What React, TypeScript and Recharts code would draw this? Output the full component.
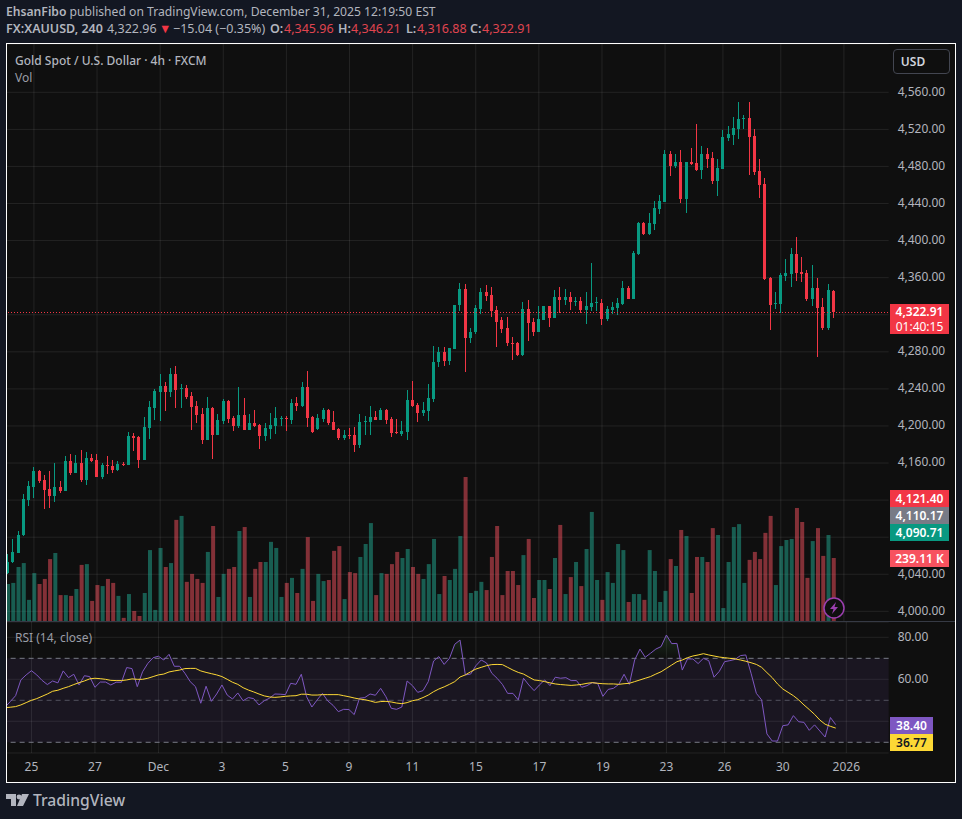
import { Area, Bar, CartesianGrid, Cell, ComposedChart, Line, ReferenceArea, ReferenceLine, XAxis, YAxis } from 'recharts';

const opens = [4041,4052.7,4063.2,4081.9,4120.5,4134.5,4151.8,4142,4132.4,4124.8,
4134.5,4130.2,4162.6,4149.7,4160.5,4142,4165.9,4163.7,4145.3,4158.3,
4157.2,4152.9,4159.4,4158.3,4189.6,4188.5,4163.7,4198.3,4219.9,4237.1,
4243.6,4237.1,4256.6,4240.4,4241.5,4232.8,4222,4213.4,4185.3,4219.9,
4190.7,4205.8,4227.4,4209,4200.4,4212.3,4196.1,4203.7,4201.5,4189.6,
4197.2,4200.4,4208,4209,4206.9,4225.3,4222,4242.5,4210.1,4197.2,
4208,4217.7,4204.7,4197.2,4187.5,4190.7,4190.7,4180,4204.7,4204.7,
4210.1,4206.9,4217.7,4208,4194,4191.8,4193.9,4228.5,4223.1,4214.5,
4216.6,4229.6,4268.5,4280.3,4270.6,4282.5,4330,4347.3,4294.4,4300.9,
4325.7,4344,4340.8,4324.6,4313.8,4305.2,4290,4290,4277.1,4325.7,
4311.7,4301.9,4313.8,4328.9,4317,4338.7,4335.4,4338.7,4333.3,4334.3,
4324.6,4327.9,4332.2,4332.5,4315.2,4324.9,4327,4331.4,4348.7,4336.8,
4385.4,4418.9,4407,4417.8,4434,4441.5,4493.4,4480.4,4484.7,4444.8,
4484.7,4483.7,4476.1,4493.4,4489.1,4464.2,4477.2,4510.7,4513.9,4520.4,
4531.2,4532.3,4512.8,4475,4461,4359.5,4331.4,4331.4,4361.6,4363.8,
4385.4,4366,4364.9,4336.8,4348.7,4328.1,4305.5,4345.96];

const highs = [4062,4078.3,4086.9,4126.9,4141,4156,4153,4147.5,4151.8,4160.5,
4141,4168,4170,4169,4174.5,4172.3,4170,4170,4160.5,4168,
4163.7,4162.6,4161.5,4194,4192.9,4189,4210.1,4227.4,4240.4,4256.6,
4247.9,4263,4265.2,4245.8,4244.7,4237.1,4227.4,4219.9,4231.7,4220,
4213.4,4229.6,4228.5,4211.2,4242.5,4230.7,4213.4,4217.7,4202.6,4203.7,
4214.5,4221,4211,4211,4229.6,4231.7,4246.9,4259.8,4211.2,4213.4,
4219.9,4218.8,4216.6,4198.3,4196.1,4198.3,4199.3,4213.4,4211.2,4222,
4216.6,4219.9,4218,4210.1,4208,4205.8,4239.3,4249,4225.3,4226.3,
4245.8,4286.8,4284.7,4284.7,4283.6,4331,4353.8,4352.7,4305.2,4330,
4348.4,4351.6,4349.5,4328.9,4318.1,4318.1,4295.5,4291.1,4333.3,4335.4,
4317,4328.9,4329,4329,4346.2,4349.5,4347.3,4344,4338.7,4338.7,
4344,4375.4,4338.7,4336.8,4329.2,4333.5,4337.9,4356.2,4350.8,4388.6,
4420,4420,4429.7,4442.6,4449.1,4497.7,4496.6,4493.4,4497.7,4484.7,
4499.9,4525.8,4502,4499.9,4495.5,4488,4519.3,4523.6,4533.3,4549.5,
4535.5,4549.5,4520.4,4488,4467.5,4360.5,4344.3,4364.9,4380,4391.9,
4403.7,4382.1,4368.1,4373.5,4359.5,4337.9,4353,4346.21];

const lows = [4040,4052,4063,4081.5,4114,4122.7,4139,4110.8,4111.9,4118.3,
4128,4130,4147.5,4149.7,4140,4136.7,4161.5,4145,4143,4148.6,
4149.7,4151.8,4157.2,4158,4173.4,4155,4163,4186.4,4206.9,4205.8,
4216.6,4231.7,4219.9,4219.9,4229.6,4196.1,4203.7,4181,4185,4164.8,
4190,4202.6,4203.7,4195,4198.3,4196,4196,4199.3,4175.6,4184.2,
4186.4,4191.8,4200.4,4195,4202.6,4216.6,4221,4199.3,4192.9,4196.1,
4204.7,4201.5,4196,4185.3,4185.3,4186.4,4172,4176,4190.7,4190.7,
4206.9,4206.9,4202.6,4188.5,4191.8,4189.6,4185.3,4221,4204.7,4211.2,
4205.8,4226.3,4264.1,4265.2,4266.3,4282.5,4323.5,4257.7,4289,4298.7,
4320.3,4334.3,4318.1,4285.7,4299.8,4286.8,4271.7,4275,4275,4292.2,
4297.6,4301.9,4313.8,4307.3,4316,4321.4,4331,4324.6,4328.9,4321.4,
4309.5,4323.5,4323.5,4308.7,4313,4320.6,4319.5,4331,4336.8,4336.8,
4384.3,4405.9,4405.9,4411.3,4428.6,4441.5,4469.6,4478.3,4440.5,4429.7,
4482,4475,4466.4,4478.3,4461,4448,4477,4507.4,4503,4509.6,
4520.4,4470.7,4470.7,4445.9,4357.3,4303.3,4326,4322.4,4356.2,4349.7,
4356.2,4355.1,4334.6,4329.2,4274.1,4303.3,4303.3,4316.88];

const closes = [4053.4,4064.2,4082.6,4121.5,4135.6,4151.8,4141,4131,4124.8,4134.5,
4130.2,4162.6,4149.7,4160.5,4142,4165.9,4162.6,4145.3,4158.3,4157.2,
4152.9,4159.4,4158.3,4189.6,4187.5,4163.7,4199.3,4220.9,4238.2,4243.6,
4237.1,4256.6,4239.3,4241.5,4231.7,4221,4212.3,4185.3,4219.9,4190.7,
4206.9,4227.4,4208,4200.4,4212.3,4196.1,4203.7,4200.4,4189.6,4198.3,
4201.5,4209,4209,4208,4225.3,4222,4242.5,4209.1,4193.9,4209.1,
4217.7,4203.7,4196.1,4187.5,4190.7,4189.6,4180,4204.7,4205.8,4210.1,
4206.9,4217.7,4206.9,4192.9,4192.9,4195,4228.5,4222,4214.5,4217.7,
4230.7,4269.5,4280.3,4270.6,4283.6,4331,4347.3,4294.4,4301.9,4326.8,
4344,4339.7,4323.5,4312.7,4304.1,4289,4289,4277.1,4325.7,4310.6,
4301.9,4314.9,4328.9,4317,4338.7,4335.4,4338.7,4333.3,4334.3,4324.6,
4329,4332.2,4333.3,4315.2,4326,4328.1,4332.5,4348.7,4336.8,4386.5,
4418.9,4407,4418.9,4435.1,4442.6,4493.4,4480.4,4484.7,4444.8,4484.7,
4482.6,4476.1,4493.4,4488,4464.2,4478.3,4511.7,4515,4521.5,4531.2,
4532.3,4511.7,4473.9,4459.9,4358.4,4330.3,4332.5,4362.7,4364.9,4385.4,
4364.9,4363.8,4336.8,4348.7,4327,4305.5,4346.5,4322.91];

// volume in thousands
const volumes = [141,145,205,220,81,182,141,160,235,258,
99,99,96,122,213,216,77,137,133,160,
145,96,13,103,39,20,107,269,43,277,
205,220,383,398,149,179,160,145,262,360,
92,179,198,205,341,356,92,198,224,224,
300,277,92,145,164,107,198,318,77,179,
152,156,266,284,84,186,182,243,292,371,
99,182,179,216,262,239,273,205,179,160,
216,311,103,171,156,198,322,545,107,115,
149,118,243,360,99,190,190,137,250,311,
88,156,156,122,239,364,103,167,224,133,
273,413,156,81,186,145,292,269,73,103,
103,81,269,190,73,115,235,209,345,322,
107,243,243,224,352,326,50,224,356,367,
145,232,262,235,334,398,137,284,307,311,
428,375,164,303,352,247,326,239.11];

const rsiValues = [46.7,49.4,52.2,59.7,62.1,64.1,62.1,59.5,57.5,59.2,
58.3,64,60.8,62.4,57.3,61.7,61.3,56.2,58.7,58.7,
57.3,58.6,58.6,65.6,65.1,56.5,63.6,67.6,70.3,71,
69.2,71.9,66.2,66.2,62.9,58.9,56.5,48.6,56.7,49.5,
53,57.3,52.5,50.6,53.5,49.8,51.3,50.8,47.8,49.8,
51,53,52.9,52.7,58.1,57.6,62.4,51.7,46.8,50.2,
53.3,49.7,47.6,44.6,45.7,45.6,43.2,51,51.3,53,
52.4,55.7,51.7,46.2,45.7,46.8,59.2,57,53.8,54.6,
58.9,68.7,70.8,67.1,70,76.7,78.7,62.1,62.5,66.5,
69.2,67.8,62.9,60.5,57.6,53.3,53.3,50.2,60.5,57.3,
54.6,57.3,59.7,57,61,60.5,60.8,59.4,59.4,56.2,
57,58.4,58.1,51.9,55.2,55.7,57.6,62.4,57.6,69.2,
74.4,70.5,72.4,74.4,75.6,81.1,77,77.1,64.4,69.7,
69.7,67.5,70,68.9,61,63.8,68.4,68.9,69.5,71.3,
71.6,62.9,53.3,50.2,34,30.6,30.6,37.9,38.3,42.7,
39.8,39.5,35.7,38.3,35.4,32.5,41.8,38.4];

const rsiAverages = [46.5,46.7,47,47.8,48.9,50,50.8,51.9,53,54.3,
54.8,55.7,56.5,57.5,58.4,59.2,60.2,60.5,60.3,60,
59.5,59.4,59.4,59.7,60.2,60,60,60.5,61.3,62.1,
62.5,63.5,64,64.4,65.1,65.2,65.2,64,63.3,62.7,
62.1,61.3,60,58.6,57.6,56,54.9,54,53,52.1,
51.6,51.4,51.6,51.9,52.1,52.2,52.9,52.9,52.5,52.5,
52.7,52.7,52.7,52.7,52.2,51.7,51.1,50.6,50.3,49.7,
49,49.4,49.5,49.2,48.7,48.4,48.9,49.8,50.3,51.3,
52.5,54.1,55.4,56.4,57.6,58.9,61.1,62.1,63.6,64.9,
65.7,66.5,67,67.1,67,65.7,64.4,63.3,62.5,61.1,
59.7,59.4,58.9,58.3,57.8,57.5,57.3,57.1,57.3,57.6,
58.1,58.4,58.1,57.9,57.8,57.8,57.6,57.9,58.1,58.9,
59.7,60.5,61.3,62.5,63.6,65.2,66.8,68.4,69.2,70.3,
71.1,71.6,72.2,71.6,71.1,70.6,70.3,70,69.7,69.2,
68.6,67.9,67.1,65.7,63.2,60.8,57.8,55.4,53.8,52.2,
50.2,47.8,45.6,43.3,40.6,38.6,37.6,36.77];

const SLOTS = 168; // candles plus the empty space right of the last one
const timeTicks = [5, 17, 29, 41, 53, 65, 77, 89, 101, 113, 125, 136, 147, 159];
const timeLabels = ['25', '27', 'Dec', '3', '5', '9', '11', '15', '17', '19', '23', '26', '30', '2026'];
const priceTicks = [4000, 4040, 4080, 4120, 4160, 4200, 4240, 4280, 4320, 4360, 4400, 4440, 4480, 4520, 4560];
const coveredPrices = [4080, 4120, 4320]; // sit under the value tags, so no label
const rsiTicks = [40, 60, 80];
const lastClose = 4322.91;

const UP = '#089981';
const DOWN = '#f23645';
const VOL_UP = '#22ab94';
const VOL_DOWN = '#f7525f';
const GRID = '#232323';
const AXIS_TEXT = '#b2b5be';
const FONT = '"Noto Sans", sans-serif';

const rows = Array.from({ length: SLOTS }, (_, i) => {
  const has = i < closes.length;
  return {
    index: i,
    open: has ? opens[i] : null,
    close: has ? closes[i] : null,
    high: has ? highs[i] : null,
    low: has ? lows[i] : null,
    range: has ? [lows[i], highs[i]] : null,
    volume: has ? volumes[i] : null,
    rsi: has ? rsiValues[i] : null,
    rsiMa: has ? rsiAverages[i] : null,
    above: has ? [70, Math.max(rsiValues[i], 70)] : null,
  };
});

const formatPrice = (v: number) =>
  coveredPrices.includes(v) ? '' : v.toLocaleString('en-US', { minimumFractionDigits: 2, maximumFractionDigits: 2 });

function Candle(props: any) {
  const { x, y, width, height, payload } = props;
  if (payload.open == null) return null;
  const top = Math.min(y, y + height);
  const unit = Math.abs(height) / (payload.high - payload.low);
  const color = payload.close >= payload.open ? UP : DOWN;
  const bodyTop = top + (payload.high - Math.max(payload.open, payload.close)) * unit;
  const bodyH = Math.max(Math.abs(payload.close - payload.open) * unit, 1);
  const mid = Math.round(x + width / 2 - 0.5);
  return (
    <g shapeRendering="crispEdges">
      <rect x={mid} y={top} width={1} height={Math.abs(height)} fill={color} />
      <rect x={mid - 1} y={bodyTop} width={3} height={bodyH} fill={color} />
    </g>
  );
}

const tag = (left: number, top: number, width: number, height: number, bg: string, color = '#fff') => ({
  position: 'absolute' as const,
  left,
  top,
  width,
  height,
  background: bg,
  color,
  font: `600 12px/${height}px ${FONT}`,
  textAlign: 'center' as const,
});

const text = (left: number, top: number, color: string, weight = 400, size = 12) => ({
  position: 'absolute' as const,
  left,
  top,
  color,
  font: `${weight} ${size}px/16px ${FONT}`,
  whiteSpace: 'pre' as const,
});

const RED_TEXT = '#e04550';
const axisTick = { fill: AXIS_TEXT, fontSize: 12, fontFamily: FONT, dy: -1 };

export default function App() {
  const paneW = 950.63;
  return (
    <div style={{ position: 'absolute', left: 0, top: 0, width: 962, height: 819, background: '#131722', overflow: 'hidden' }}>
      <div style={text(6, 4, AXIS_TEXT, 400, 12.15)}>
        <span style={{ fontWeight: 600 }}>EhsanFibo</span> published on TradingView.com, December 31, 2025 12:19:50 EST
      </div>
      <div style={text(6, 21, AXIS_TEXT, 600, 12.5)}>FX:XAUUSD, 240</div>
      <div style={text(107, 21, AXIS_TEXT, 400, 12.5)}>4,322.96</div>
      <div style={text(159, 21, '#f23645', 400, 12.5)}>▼</div>
      <div style={text(173, 21, AXIS_TEXT, 400, 12.5)}>−15.04 (−0.35%)</div>
      <div style={text(270, 21, AXIS_TEXT, 600, 12.5)}>O:</div>
      <div style={text(284, 21, RED_TEXT, 400, 12.5)}>4,345.96</div>
      <div style={text(338, 21, AXIS_TEXT, 600, 12.5)}>H:</div>
      <div style={text(351, 21, RED_TEXT, 400, 12.5)}>4,346.21</div>
      <div style={text(406, 21, AXIS_TEXT, 600, 12.5)}>L:</div>
      <div style={text(417, 21, RED_TEXT, 400, 12.5)}>4,316.88</div>
      <div style={text(470, 21, AXIS_TEXT, 600, 12.5)}>C:</div>
      <div style={text(482, 21, RED_TEXT, 400, 12.5)}>4,322.91</div>

      {/* framed chart area */}
      <div style={{ position: 'absolute', left: 6, top: 43, width: 950, height: 740, boxSizing: 'border-box', border: '1px solid #fff', background: '#0f0f0f', overflow: 'hidden' }}>
        {/* grid, price axis, volume */}
        <div style={{ position: 'absolute', left: -1.63, top: 0 }}>
          <ComposedChart width={paneW} height={578} data={rows} margin={{ top: 0, right: 0, bottom: 0, left: 0 }}>
            <CartesianGrid stroke={GRID} vertical={false} />
            <XAxis dataKey="index" hide />
            <YAxis
              orientation="right"
              width={67}
              domain={[3988.5, 4612.1]}
              ticks={priceTicks}
              tickFormatter={formatPrice}
              axisLine={false}
              tickLine={false}
              tickMargin={3}
              tick={axisTick}
            />
            <YAxis yAxisId="vol" hide domain={[-2.6, 2180]} />
            <Line dataKey="close" stroke="none" dot={false} isAnimationActive={false} />
            <Bar yAxisId="vol" dataKey="volume" barSize={4} fillOpacity={0.5} isAnimationActive={false}>
              {rows.map((r) => (
                <Cell key={r.index} fill={(r.close ?? 0) >= (r.open ?? 0) ? VOL_UP : VOL_DOWN} />
              ))}
            </Bar>
            {timeTicks.map((t) => (
              <ReferenceLine key={t} x={t} stroke="#fff" strokeOpacity={0.09} />
            ))}
          </ComposedChart>
        </div>
        {/* candles */}
        <div style={{ position: 'absolute', left: -1.63, top: 0 }}>
          <ComposedChart width={paneW} height={578} data={rows} margin={{ top: 0, right: 67, bottom: 0, left: 0 }}>
            <XAxis dataKey="index" hide />
            <YAxis domain={[3988.5, 4612.1]} hide />
            <ReferenceLine y={lastClose} stroke="#f23645" strokeDasharray="1.5 1.5" shapeRendering="crispEdges" />
            <Bar dataKey="range" barSize={3} shape={Candle} isAnimationActive={false} />
          </ComposedChart>
        </div>
        {/* RSI pane and time axis */}
        <div style={{ position: 'absolute', left: -1.63, top: 577, borderTop: '1px solid #363a45' }}>
          <ComposedChart width={paneW} height={160} data={rows} margin={{ top: 0, right: 0, bottom: 0, left: 0 }}>
            <defs>
              <linearGradient id="rsiAbove" x1="0" y1="0" x2="0" y2="1">
                <stop offset="0%" stopColor="#4caf50" stopOpacity={0.3} />
                <stop offset="100%" stopColor="#4caf50" stopOpacity={0} />
              </linearGradient>
            </defs>
            <CartesianGrid stroke={GRID} vertical={false} />
            <XAxis
              dataKey="index"
              ticks={timeTicks}
              interval={0}
              height={29}
              tickFormatter={(v: number) => timeLabels[timeTicks.indexOf(v)]}
              axisLine={false}
              tickLine={false}
              tickMargin={3}
              tick={{ fill: AXIS_TEXT, fontSize: 12, fontFamily: FONT }}
            />
            <YAxis
              orientation="right"
              width={67}
              domain={[24.9, 87.3]}
              ticks={rsiTicks}
              tickFormatter={(v: number) => (v === 40 ? '' : v.toFixed(2))}
              axisLine={false}
              tickLine={false}
              tickMargin={3}
              tick={axisTick}
            />
            <ReferenceArea y1={30} y2={70} fill="#7e57c2" fillOpacity={0.1} stroke="none" />
            {timeTicks.map((t) => (
              <ReferenceLine key={t} x={t} stroke="#fff" strokeOpacity={0.09} />
            ))}
            <ReferenceLine y={70} stroke="#787b86" strokeDasharray="5 4" />
            <ReferenceLine y={50} stroke="#787b86" strokeDasharray="5 4" strokeOpacity={0.6} />
            <ReferenceLine y={30} stroke="#787b86" strokeDasharray="5 4" />
            <Area dataKey="above" stroke="none" fill="url(#rsiAbove)" baseValue={70} isAnimationActive={false} />
            <Line dataKey="rsi" stroke="#7e57c2" strokeWidth={1} dot={false} isAnimationActive={false} />
            <Line dataKey="rsiMa" stroke="#fdd835" strokeWidth={1} dot={false} isAnimationActive={false} />
          </ComposedChart>
        </div>
      </div>

      <div style={text(15, 53, AXIS_TEXT, 500)}>Gold Spot / U.S. Dollar · 4h · FXCM</div>
      <div style={text(15, 70, '#9a9da6')}>Vol</div>
      <div style={text(15, 630, '#9a9da6')}>RSI (14, close)</div>

      <div style={{ position: 'absolute', left: 893, top: 49, width: 57, height: 25, boxSizing: 'border-box', border: '1px solid #434651', borderRadius: 4, background: '#0f0f0f' }} />
      <div style={{ ...text(893, 54, '#d1d4dc', 600), width: 40, textAlign: 'center' }}>USD</div>

      {/* last value tags */}
      <div style={tag(890, 304, 59, 15, '#f23645')}>4,322.91</div>
      <div style={{ ...tag(890, 319, 59, 15, '#f23645'), fontWeight: 400 }}>01:40:15</div>
      <div style={tag(890, 490, 59, 17, '#f23645')}>4,121.40</div>
      <div style={tag(890, 507, 59, 17, '#787b86')}>4,110.17</div>
      <div style={tag(890, 524, 59, 17, '#089981')}>4,090.71</div>
      <div style={tag(890, 550, 59, 17, '#f7525f')}>239.11 K</div>
      <div style={tag(890, 717, 43, 17, '#7e57c2')}>38.40</div>
      <div style={tag(890, 734, 43, 17, '#fdd835', '#131722')}>36.77</div>

      <svg style={{ position: 'absolute', left: 822, top: 596 }} width={24} height={24}>
        <circle cx={12} cy={12} r={10} fill="#0f0f0f" stroke="#9c3fb0" strokeWidth={1.5} />
        <path d="M14 6 L8 13 L11.5 13 L10 18 L16 11 L12.5 11 Z" fill="#9c3fb0" />
      </svg>

      {/* footer logo */}
      <svg style={{ position: 'absolute', left: 6, top: 793 }} width={24} height={14}>
        <path d="M0 1 H10 V13 H5 V6 H0 Z M16 1 H23 L17 13 H11 Z" fill="#b2b5be" />
        <circle cx={13} cy={4} r={2.4} fill="#b2b5be" />
      </svg>
      <div style={{ position: 'absolute', left: 33, top: 789, color: '#b2b5be', font: `500 15.7px/22px ${FONT}` }}>TradingView</div>
    </div>
  );
}
